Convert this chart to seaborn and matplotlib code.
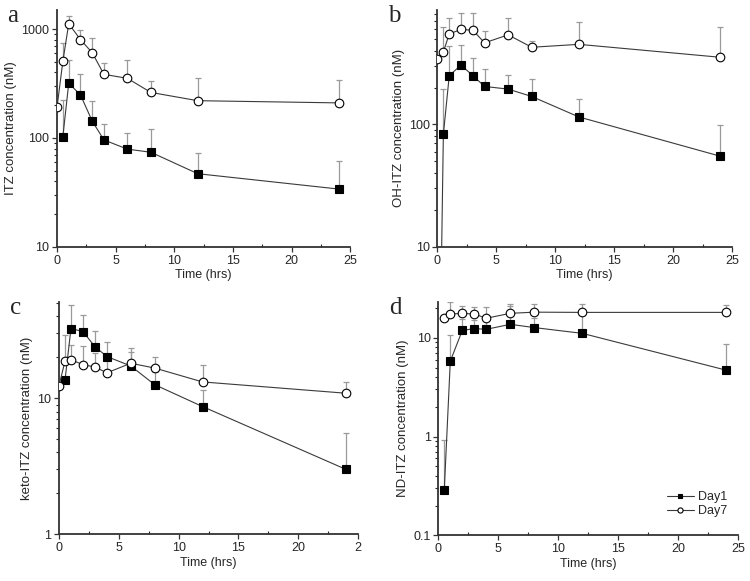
import numpy as np
import pandas as pd
import matplotlib
matplotlib.use("Agg")
import matplotlib.pyplot as plt
from matplotlib.ticker import FuncFormatter, LogLocator, MultipleLocator
import seaborn as sns

sns.set_style("ticks")
plt.rcParams['font.family'] = ['Liberation Sans', 'DejaVu Sans']

# sampling times (hrs)
time_full = [0, 0.5, 1, 2, 3, 4, 6, 8, 12, 24]
time_nozero = [0.5, 1, 2, 3, 4, 6, 8, 12, 24]

# a: ITZ
itz_day1 = [103, 318, 249, 143, 96, 79, 74, 47, 34]
itz_day1_up = [221, 519, 385, 217, 134, 111, 121, 73, 61]
itz_day7 = [191, 506, 1120, 800, 607, 384, 353, 262, 220, 210]
itz_day7_up = [191, 743, 1319, 980, 824, 484, 515, 336, 357, 340]

# b: OH-ITZ
oh_day1 = [0.05, 83, 250, 305, 250, 204, 194, 169, 115, 55]
oh_day1_up = [0.05, 195, 433, 442, 349, 281, 255, 235, 162, 99]
oh_day7 = [341, 390, 548, 595, 587, 463, 538, 426, 450, 353]
oh_day7_up = [341, 628, 738, 810, 806, 583, 734, 476, 690, 621]

# c: keto-ITZ
keto_day1 = [13.6, 32.6, 31.0, 24.0, 20.3, 17.3, 12.6, 8.7, 3.0]
keto_day1_up = [13.6, 48.4, 40.7, 31.3, 25.8, 23.3, 15.6, 11.5, 5.6]
keto_day7 = [12.4, 18.8, 19.2, 17.7, 17.0, 15.4, 18.1, 16.7, 13.2, 10.9]
keto_day7_up = [12.4, 29.0, 24.7, 24.4, 21.5, 20.6, 21.8, 20.1, 17.5, 13.2]

# d: ND-ITZ
nd_day1 = [0.29, 5.8, 11.9, 12.4, 12.2, 13.7, 12.7, 11.1, 4.7]
nd_day1_up = [0.92, 10.6, 15.5, 15.0, 16.0, 21.0, 16.0, 17.0, 8.6]
nd_day7 = [15.7, 17.4, 17.7, 17.4, 15.8, 17.7, 18.2, 18.1, 18.1]
nd_day7_up = [15.7, 22.8, 20.9, 20.3, 20.6, 21.9, 21.9, 21.9, 21.4]

panels = [
    dict(letter="a", ylabel="ITZ concentration (nM)", ylim=(10, 1500),
         d1=(time_nozero, itz_day1, itz_day1_up), d7=(time_full, itz_day7, itz_day7_up),
         rect=[0.076, 0.575, 0.391, 0.408]),
    dict(letter="b", ylabel="OH-ITZ concentration (nM)", ylim=(10, 860),
         d1=(time_full, oh_day1, oh_day1_up), d7=(time_full, oh_day7, oh_day7_up),
         rect=[0.5833, 0.575, 0.3927, 0.408]),
    dict(letter="c", ylabel="keto-ITZ concentration (nM)", ylim=(1, 51),
         d1=(time_nozero, keto_day1, keto_day1_up), d7=(time_full, keto_day7, keto_day7_up),
         rect=[0.0787, 0.0804, 0.3986, 0.3996]),
    dict(letter="d", ylabel="ND-ITZ concentration (nM)", ylim=(0.1, 23),
         d1=(time_nozero, nd_day1, nd_day1_up), d7=(time_nozero, nd_day7, nd_day7_up),
         rect=[0.5844, 0.0787, 0.4, 0.4013]),
]

fig = plt.figure(figsize=(7.5, 5.81), dpi=100)

for p in panels:
    ax = fig.add_axes(p["rect"])
    for name, (t, v, up), mfc in [("Day1", p["d1"], "black"), ("Day7", p["d7"], "white")]:
        t = np.array(t, float)
        v = np.array(v, float)
        up = np.array(up, float)
        ax.errorbar(t, v, yerr=[np.zeros_like(v), up - v], fmt="none",
                    ecolor="#9a9a9a", elinewidth=0.9, capsize=2.5, capthick=0.9, zorder=1)
        df = pd.DataFrame({"time": t, "conc": v})
        sns.lineplot(data=df, x="time", y="conc", ax=ax, color="#3a3a3a", lw=0.8,
                     marker="s" if name == "Day1" else "o",
                     markersize=5.5 if name == "Day1" else 6.2,
                     markerfacecolor=mfc, markeredgecolor="black", markeredgewidth=0.8,
                     errorbar=None, label=name, zorder=3)
    ax.set_yscale("log")
    ax.set_ylim(*p["ylim"])
    ax.set_xlim(0, 25)
    ax.xaxis.set_major_locator(MultipleLocator(5))
    ax.xaxis.set_minor_locator(MultipleLocator(2.5))
    ax.yaxis.set_major_locator(LogLocator(base=10))
    ax.yaxis.set_minor_locator(LogLocator(base=10, subs=np.arange(2, 10)))
    ax.yaxis.set_major_formatter(FuncFormatter(lambda y, pos: f"{y:g}"))
    ax.yaxis.set_minor_formatter(FuncFormatter(lambda y, pos: ""))
    if p["letter"] == "c":
        ax.xaxis.set_major_formatter(FuncFormatter(lambda x, pos: "2" if x == 25 else f"{x:g}"))
    ax.tick_params(axis="both", which="major", labelsize=9, length=3.5, width=0.9,
                   color="#333333", pad=2)
    ax.tick_params(axis="x", which="minor", direction="in", length=2.5, width=0.8)
    ax.tick_params(axis="y", which="minor", length=2.2, width=0.8)
    sns.despine(ax=ax)
    for s in ["left", "bottom"]:
        ax.spines[s].set_linewidth(1.3)
        ax.spines[s].set_color("#333333")
    ax.set_xlabel("Time (hrs)", fontsize=9, labelpad=2)
    ax.set_ylabel(p["ylabel"], fontsize=9.5, labelpad=3)
    if p["letter"] == "d":
        ax.legend(loc="lower right", frameon=False, fontsize=9, markerscale=0.6,
                  handlelength=2.2, handletextpad=0.3, labelspacing=0.15,
                  bbox_to_anchor=(1.0, 0.03))
    else:
        leg = ax.get_legend()
        if leg is not None:
            leg.remove()
    lx = p["rect"][0] - 0.066
    fig.text(lx, p["rect"][1] + p["rect"][3] - 0.01, p["letter"], fontsize=18,
             family=["Liberation Serif", "DejaVu Serif"], va="center", ha="left")

fig.savefig("out.png", dpi=100)
